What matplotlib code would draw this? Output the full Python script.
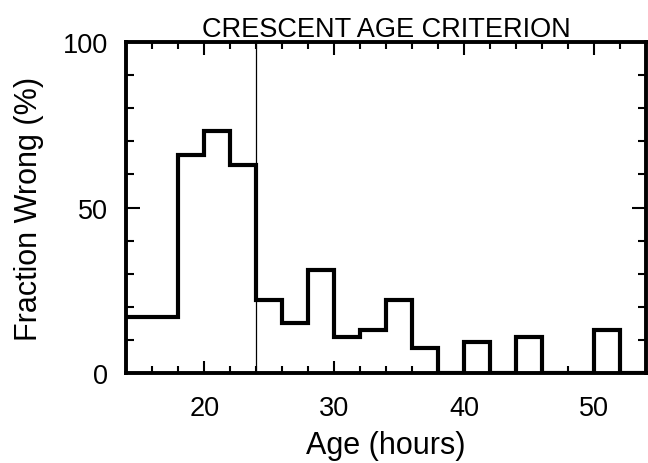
import matplotlib
matplotlib.use("Agg")
import matplotlib.pyplot as plt
from matplotlib.ticker import MultipleLocator
import numpy as np

# Data: fraction wrong (%) per 2-hour age bin
bin_edges = [14, 16, 18, 20, 22, 24, 26, 28, 30, 32, 34, 36, 38, 40, 42, 44, 46, 48, 50, 52, 54]
fraction_wrong = [17, 17, 66, 73, 63, 22, 15, 31, 11, 13, 22, 7.5, 0, 9.5, 0, 11, 0, 0, 13, 0]
criterion_age = 24
x_ticks = [20, 30, 40, 50]
y_ticks = [0, 50, 100]
title = "CRESCENT AGE CRITERION"
xlabel = "Age (hours)"
ylabel = "Fraction Wrong (%)"

plt.rcParams['font.family'] = ['Liberation Sans', 'DejaVu Sans']

fig = plt.figure(figsize=(6.48, 4.64), dpi=100)
ax = fig.add_axes([0.195, 0.194, 0.802, 0.713])

ax.stairs(fraction_wrong, bin_edges, baseline=None, color='black', linewidth=3.0)
ax.axvline(criterion_age, color='black', linewidth=0.9)

ax.set_xlim(bin_edges[0], bin_edges[-1])
ax.set_ylim(0, 100)
ax.set_xticks(x_ticks)
ax.set_yticks(y_ticks)
ax.xaxis.set_minor_locator(MultipleLocator(2))
ax.yaxis.set_minor_locator(MultipleLocator(10))

ax.tick_params(which='both', direction='in', top=True, right=True, width=1.5, colors='black')
ax.tick_params(axis='x', which='major', length=9, labelsize=19.5, pad=16)
ax.tick_params(axis='x', which='minor', length=5)
ax.tick_params(axis='y', which='major', length=10, labelsize=19.5, pad=13)
ax.tick_params(axis='y', which='minor', length=5.5)

for s in ax.spines.values():
    s.set_linewidth(2.8)

ax.set_title(title, fontsize=19.5, pad=2)
ax.set_xlabel(xlabel, fontsize=22, labelpad=6)
ax.set_ylabel(ylabel, fontsize=22, labelpad=14)

fig.savefig("out.png", dpi=100)
